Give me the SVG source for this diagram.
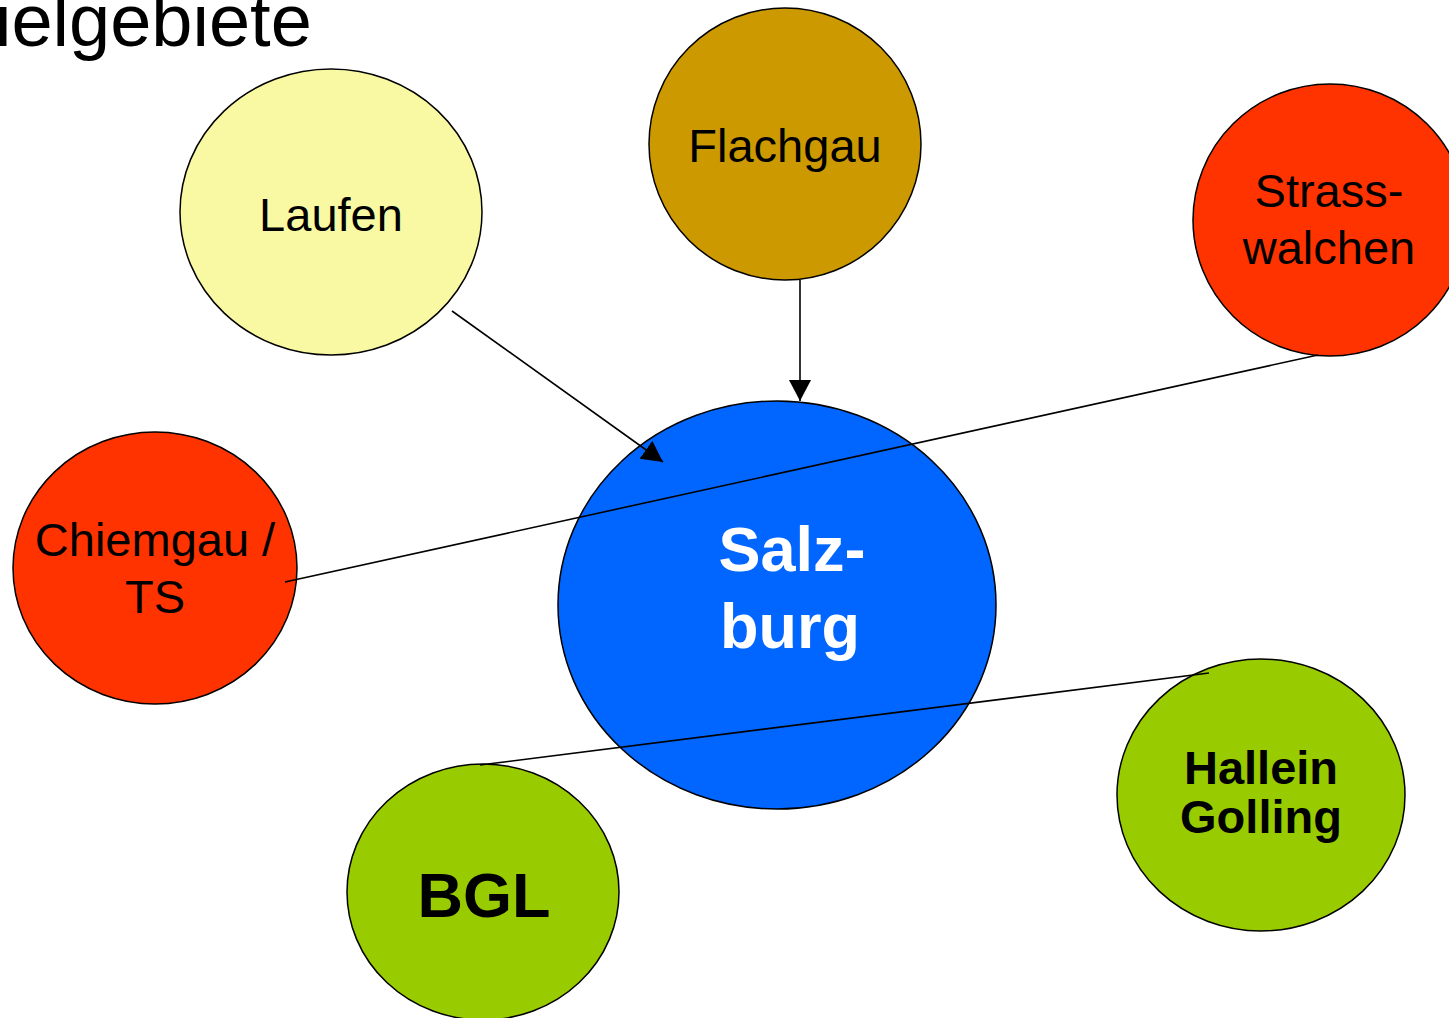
<svg xmlns="http://www.w3.org/2000/svg" width="1449" height="1018" viewBox="0 0 1449 1018">
<style>
.node{stroke:#000;stroke-width:1.5}
.t{font-family:"Liberation Sans",Arial,sans-serif;font-size:47px;fill:#000;text-anchor:middle}
.b{font-weight:bold}
.conn{stroke:#000;stroke-width:1.6;fill:none}
</style>
<defs>
<marker id="arr" markerUnits="userSpaceOnUse" markerWidth="22" markerHeight="22" viewBox="0 0 22 22" refX="21" refY="11" orient="auto">
<path d="M0,0 L21,11 L0,22 z" fill="#000"/>
</marker>
</defs>
<rect width="1449" height="1018" fill="#fff"/>
<text x="-5" y="46" font-family="Liberation Sans, Arial, sans-serif" font-size="74" fill="#000">ielgebiete</text>
<g id="node-laufen">
<ellipse class="node" cx="331" cy="212" rx="151" ry="143" fill="#F9F9A3"/>
<text class="t" x="331" y="231">Laufen</text>
</g>
<g id="node-flachgau">
<ellipse class="node" cx="785" cy="144" rx="136" ry="136" fill="#CC9900"/>
<text class="t" x="785" y="162">Flachgau</text>
</g>
<g id="node-strasswalchen">
<ellipse class="node" cx="1330" cy="220" rx="137" ry="136" fill="#FF3300"/>
<text class="t" x="1329" y="207">Strass-</text>
<text class="t" x="1329" y="264">walchen</text>
</g>
<g id="node-chiemgau">
<ellipse class="node" cx="155" cy="568" rx="142" ry="136" fill="#FF3300"/>
<text class="t" x="155" y="556">Chiemgau /</text>
<text class="t" x="155" y="613">TS</text>
</g>
<g id="node-salzburg">
<ellipse class="node" cx="777" cy="605" rx="219" ry="204" fill="#0066FF"/>
<text class="t b" x="792" y="571" style="font-size:63px;fill:#fff">Salz-</text>
<text class="t b" x="790" y="648" style="font-size:63px;fill:#fff">burg</text>
</g>
<g id="node-bgl">
<ellipse class="node" cx="483" cy="892" rx="136" ry="128" fill="#99CC00"/>
<text class="t b" x="484" y="917" style="font-size:63px">BGL</text>
</g>
<g id="node-hallein">
<ellipse class="node" cx="1261" cy="795" rx="144" ry="136" fill="#99CC00"/>
<text class="t b" x="1261" y="784">Hallein</text>
<text class="t b" x="1261" y="833">Golling</text>
</g>
<g id="connectors">
<line class="conn" x1="452" y1="311" x2="663" y2="462" marker-end="url(#arr)"/>
<line class="conn" x1="800" y1="280" x2="800" y2="401" marker-end="url(#arr)"/>
<line class="conn" x1="1318" y1="355" x2="285" y2="582"/>
<line class="conn" x1="1209" y1="673" x2="480" y2="765"/>
</g>
</svg>
